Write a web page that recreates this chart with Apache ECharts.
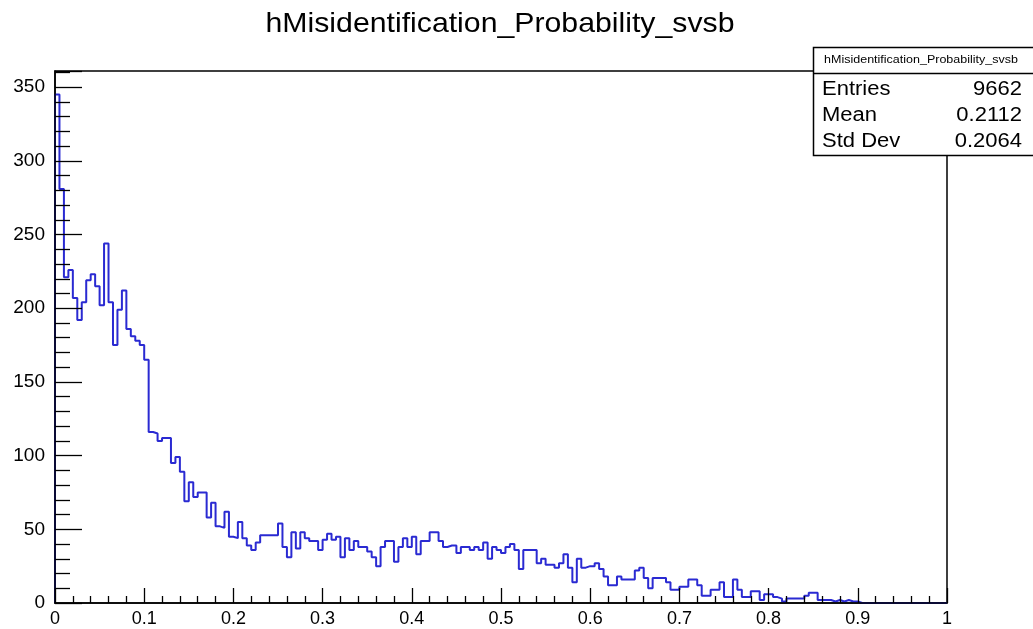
<!DOCTYPE html>
<html>
<head>
<meta charset="utf-8">
<script src="https://cdn.jsdelivr.net/npm/echarts@6/dist/echarts.min.js"></script>
<style>
html,body{margin:0;padding:0;background:#fff;}
#chart{width:1033px;height:629px;}
</style>
</head>
<body>
<div id="chart"></div>
<script>
// Histogram: 200 bins over [0,1], bin width 0.005
const histTitle = 'hMisidentification_Probability_svsb';
const xMin = 0, xMax = 1, binWidth = 0.005;
const counts = [
  345, 281, 221, 226, 207, 192, 204, 219, 223, 215,
  202, 244, 204, 175, 199, 212, 186, 181, 178, 175,
  165, 116, 115, 110, 112, 112, 95, 99, 89, 69,
  82, 72, 75, 75, 58, 68, 52, 51, 62, 45,
  44, 55, 44, 39, 36, 41, 46, 46, 46, 46,
  54, 38, 31, 48, 37, 48, 44, 42, 42, 36,
  43, 47, 43, 45, 31, 44, 36, 42, 38, 38,
  35, 31, 25, 38, 42, 42, 28, 38, 44, 38,
  45, 33, 42, 42, 48, 48, 42, 38, 39, 39,
  34, 38, 38, 36, 38, 36, 41, 30, 38, 36,
  34, 38, 40, 36, 23, 36, 36, 36, 27, 30,
  26, 26, 24, 27, 33, 24, 14, 30, 24, 25,
  25, 27, 23, 18, 12, 12, 18, 16, 16, 16,
  22, 24, 17, 10, 17, 17, 17, 14, 9, 9,
  11, 11, 16, 16, 12, 5, 5, 9, 9, 14,
  4, 4, 16, 9, 4, 4, 8, 8, 2, 6,
  6, 4, 3, 1, 3, 3, 3, 3, 5, 7,
  7, 2, 2, 2, 1, 2, 1, 2, 1, 1,
  0, 0, 0, 0, 0, 0, 0, 0, 0, 0,
  0, 0, 0, 0, 0, 0, 0, 0, 0, 0
];
const statLabels = ['Entries', 'Mean', 'Std Dev'];
const statValues = ['9662', '0.2112', '0.2064'];
const yMin = 0, yMax = 361, yInterval = 50, xInterval = 0.1;

// step outline points: [lowEdge, count]
const pts = [[xMin, 0]];
counts.forEach((c, i) => pts.push([+(xMin + i * binWidth).toFixed(4), c]));
pts.push([xMax, counts[counts.length - 1]]);

const FONT = '"Liberation Sans", Arial, Helvetica, sans-serif';
const chart = echarts.init(document.getElementById('chart'), null, {renderer: 'canvas'});

const statsGraphics = [];
statsGraphics.push({
  type: 'rect', z: 100,
  shape: {x: 813.5, y: 47.5, width: 230, height: 108},
  style: {fill: '#fff', stroke: '#000', lineWidth: 1.5}
});
statsGraphics.push({
  type: 'line', z: 101,
  shape: {x1: 813.5, y1: 73.5, x2: 1040, y2: 73.5},
  style: {stroke: '#000', lineWidth: 1.5}
});
statsGraphics.push({
  type: 'text', z: 102, x: 921, y: 60, scaleX: 1.25,
  style: {text: histTitle, font: '10px ' + FONT, fill: '#000', align: 'center', verticalAlign: 'middle'}
});
const rowY = [89, 115, 141];
statLabels.forEach((lab, i) => {
  statsGraphics.push({
    type: 'text', z: 102, x: 822, y: rowY[i], scaleX: 1.1,
    style: {text: lab, font: '20px ' + FONT, fill: '#000', align: 'left', verticalAlign: 'middle'}
  });
  statsGraphics.push({
    type: 'text', z: 102, x: 1022, y: rowY[i], scaleX: 1.1,
    style: {text: statValues[i], font: '20px ' + FONT, fill: '#000', align: 'right', verticalAlign: 'middle'}
  });
});

chart.setOption({
  animation: false,
  backgroundColor: '#fff',
  grid: {left: 55, right: 86, top: 71, bottom: 26, show: true, borderColor: '#000', borderWidth: 1.5, backgroundColor: 'transparent'},
  xAxis: {
    type: 'value', min: xMin, max: xMax, interval: xInterval, z: 5,
    axisLine: {show: true, onZero: false, lineStyle: {color: '#000', width: 1.5}},
    axisTick: {show: true, inside: true, length: 15, lineStyle: {color: '#000', width: 1.3}},
    minorTick: {show: true, splitNumber: 5, length: 7, lineStyle: {color: '#000', width: 1.3}},
    splitLine: {show: false},
    axisLabel: {color: '#000', fontSize: 18, fontFamily: FONT, margin: 7,
      formatter: v => (Math.round(v * 10) / 10).toString()}
  },
  yAxis: {
    type: 'value', min: yMin, max: yMax, interval: yInterval, z: 5,
    axisLine: {show: true, onZero: false, lineStyle: {color: '#000', width: 1.5}},
    axisTick: {show: true, inside: true, length: 27, lineStyle: {color: '#000', width: 1.3}},
    minorTick: {show: true, splitNumber: 5, length: 15, lineStyle: {color: '#000', width: 1.3}},
    splitLine: {show: false},
    axisLabel: {color: '#000', fontSize: 19, fontFamily: FONT, margin: 10, showMaxLabel: false}
  },
  series: [{
    type: 'line', step: 'end', data: pts, showSymbol: false, symbol: 'none',
    lineStyle: {color: '#2a2ad2', width: 2}, z: 2, silent: true
  }],
  graphic: [
    {type: 'text', x: 500, y: 24, scaleX: 1.08, z: 100,
     style: {text: histTitle, font: '28px ' + FONT, fill: '#000', align: 'center', verticalAlign: 'middle'}}
  ].concat(statsGraphics)
});
</script>
</body>
</html>
